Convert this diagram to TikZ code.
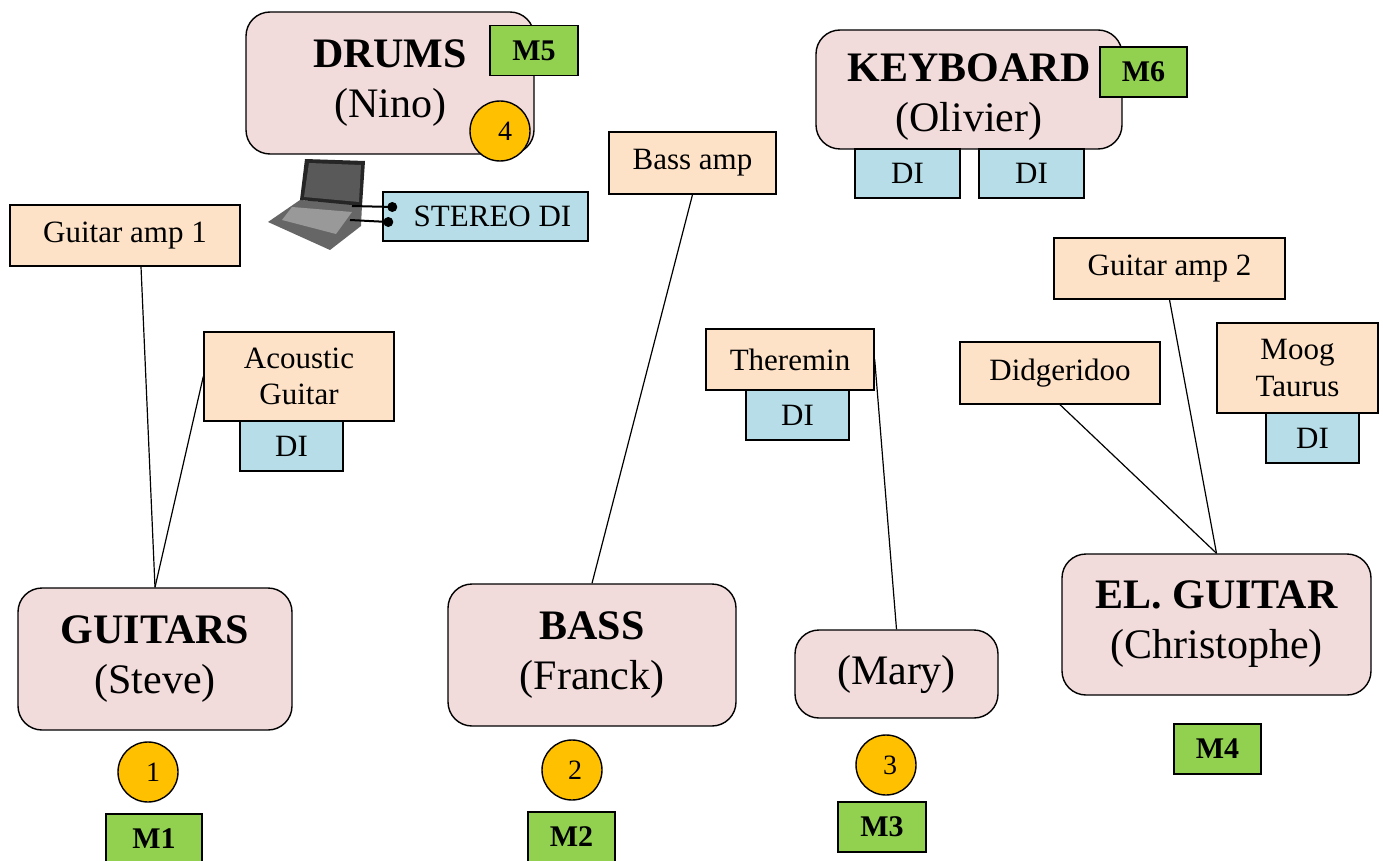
\documentclass[tikz,border=0pt]{standalone}
\usepackage{fontspec}
\setmainfont{Liberation Serif}
\usetikzlibrary{calc}
\definecolor{rosa}{HTML}{F2DCDB}
\definecolor{verde}{HTML}{92D050}
\definecolor{laranja}{HTML}{FFC000}
\definecolor{pessego}{RGB}{253,226,200}
\definecolor{azul}{HTML}{B7DEE8}
\tikzset{musico/.style={draw=black,line width=1.4pt,fill=rosa,rounded corners=24pt,align=center,inner sep=0pt,font=\fontsize{42}{50}\selectfont}}
\tikzset{caixa/.style={draw=black,line width=1.4pt,fill=#1,inner sep=0pt,align=center,font=\fontsize{31}{36}\selectfont},caixa/.default=pessego}
\tikzset{mic/.style={caixa=verde,font=\bfseries\fontsize{30}{34}\selectfont,minimum width=88pt,minimum height=50pt}}
\tikzset{canal/.style={circle,draw=black,line width=1.4pt,fill=laranja,minimum size=60pt,inner sep=0pt,font=\fontsize{28}{30}\selectfont}}
\tikzset{fio/.style={line width=1.2pt}}

\begin{document}
\begin{tikzpicture}[x=1pt,y=-1pt]
	\useasboundingbox (0,0) rectangle (1383,861);

	% Os musicos
	\node[musico,minimum width=288pt,minimum height=142pt] (drums) at (390,83) {{\bfseries DRUMS}\\(Nino)};
	\node[musico,minimum width=306pt,minimum height=119pt] (keyb) at (969,89.5) {{\bfseries\rule{0pt}{42pt}KEYBOARD}\\(Olivier)};
	\node[musico,minimum width=274pt,minimum height=142pt] (guitars) at (155,659) {{\bfseries GUITARS}\\(Steve)};
	\node[musico,minimum width=288pt,minimum height=142pt] (bass) at (592,655) {{\bfseries BASS}\\(Franck)};
	\node[musico,minimum width=203pt,minimum height=88pt] (mary) at (896.5,674) {(Mary)};
	\node[musico,minimum width=309pt,minimum height=141pt] (elg) at (1216.5,624.5) {{\bfseries EL. GUITAR}\\(Christophe)};

	% Microfones
	\node[mic] (m5) at (534,50.5) {M5};
	\node[mic,minimum width=87pt] (m6) at (1143.5,72) {M6};
	\node[mic,minimum width=96pt] (m1) at (154,839) {M1};
	\node[mic,minimum width=87pt] (m2) at (571.5,837) {M2};
	\node[mic] (m3) at (882,827) {M3};
	\node[mic,minimum width=87pt] (m4) at (1217.5,749) {M4};

	% Canais
	\node[canal] (c4) at (500,131) {\raisebox{-4pt}{\hspace{10pt}4}};
	\node[canal] (c1) at (148,772) {\raisebox{-6pt}{\hspace{10pt}1}};
	\node[canal] (c2) at (572,770) {\raisebox{-6pt}{\hspace{6pt}2}};
	\node[canal] (c3) at (886,765) {\raisebox{-4pt}{\hspace{8pt}3}};

	% Amplificadores e instrumentos
	\node[caixa,minimum width=230pt,minimum height=61pt] (ga1) at (125,235.5) {Guitar amp 1};
	\node[caixa,minimum width=167pt,minimum height=62pt] (bamp) at (692.5,163) {Bass amp};
	\node[caixa,minimum width=190pt,minimum height=89pt] (acg) at (299,376.5) {Acoustic\\Guitar};
	\node[caixa,minimum width=168pt,minimum height=61pt] (ther) at (790,359.5) {Theremin};
	\node[caixa,minimum width=231pt,minimum height=61pt] (ga2) at (1169.5,268.5) {Guitar amp 2};
	\node[caixa,minimum width=200pt,minimum height=62pt] (didg) at (1060,373) {Didgeridoo};
	\node[caixa,minimum width=161pt,minimum height=90pt] (moog) at (1297.5,368) {Moog\\Taurus};

	% Caixas DI
	\node[caixa=azul,minimum width=105pt,minimum height=49pt] (dik1) at (907.5,173.5) {DI};
	\node[caixa=azul,minimum width=105pt,minimum height=49pt] (dik2) at (1031.5,173.5) {DI};
	\node[caixa=azul,minimum width=205pt,minimum height=49pt] (sdi) at (485.5,216.5) {\hspace{14pt}STEREO DI};
	\node[caixa=azul,minimum width=103pt,minimum height=50pt] (diac) at (291.5,446) {DI};
	\node[caixa=azul,minimum width=103pt,minimum height=50pt] (dith) at (797.5,415) {DI};
	\node[caixa=azul,minimum width=93pt,minimum height=50pt] (dimoog) at (1312.5,438) {DI};

	% O portatil
	\fill[black!60] (300,200) -- (362,205) -- (361,226) -- (330,250) -- (268,222) -- cycle;
	\fill[black!40] (292,207) -- (352,212) -- (336,234) -- (282,220) -- cycle;
	\fill[black!85] (305,159) -- (365,161) -- (362,206) -- (300,200) -- cycle;
	\fill[black!65] (309,163) -- (361,165) -- (359,202) -- (304,197) -- cycle;
	\coordinate (p1) at (352,206);
	\coordinate (p2) at (350,220);
	\coordinate (j1) at ($(sdi.west)+(10,-9.5)$);
	\coordinate (j2) at ($(sdi.west)+(6,5.5)$);
	\draw[line width=2pt] (p1) -- (j1);
	\draw[line width=2pt] (p2) -- (j2);
	\fill (j1) circle (5pt);
	\fill (j2) circle (5pt);

	% As ligacoes
	\draw[fio] ($(ga1.south)+(16,0)$) -- (guitars.north);
	\draw[fio] (acg.west) -- (guitars.north);
	\draw[fio] (bamp.south) -- (bass.north);
	\draw[fio] (ther.east) -- (mary.north);
	\draw[fio] (ga2.south) -- (elg.north);
	\draw[fio] (didg.south) -- (elg.north);

\end{tikzpicture}
\end{document}
